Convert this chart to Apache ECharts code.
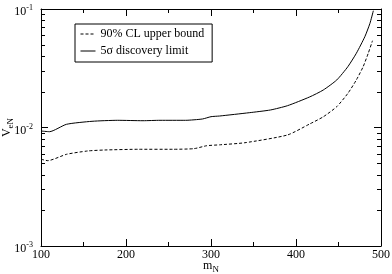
<!DOCTYPE html>
<html><head><meta charset="utf-8">
<script src="https://cdn.jsdelivr.net/npm/echarts@6/dist/echarts.min.js"></script>
<style>html,body{margin:0;padding:0;background:#fff}#c{width:392px;height:274px}</style>
</head><body><div id="c"></div>
<script>
// Data
const massUpper = [100,108,130,155,175,215,255,280,295,310,340,390,416,432,448,461,471,479,485,490];
const upperBound = [0.0054,0.00525,0.00594,0.00634,0.00646,0.00655,0.00655,0.00663,0.00702,0.00714,0.00744,0.00865,0.0107,0.0123,0.015,0.0194,0.0252,0.0326,0.0423,0.054];
const massDisc = [100,110,130,160,190,220,240,270,290,300,310,345,370,390,416,432,448,461,471,481,487,491];
const discovery = [0.00934,0.00922,0.01064,0.01128,0.0115,0.01141,0.0115,0.0115,0.0118,0.01234,0.0125,0.01333,0.01406,0.01528,0.0181,0.0207,0.0252,0.0326,0.0423,0.0584,0.0757,0.0967];
const seriesNames = ['90% CL upper bound', '5\u03c3 discovery limit'];
const xTicks = [100,200,300,400,500];
const yMinorTicks = [0.002,0.003,0.004,0.005,0.006,0.007,0.008,0.009,0.02,0.03,0.04,0.05,0.06,0.07,0.08,0.09];
const X_MIN = 100, X_MAX = 500;

const FONT = '"Liberation Serif", "Times New Roman", serif';
const chart = echarts.init(document.getElementById('c'), null, {renderer: 'canvas'});

function yLabel(v) {
  const e = Math.round(Math.log10(v));
  return '{b|10}{s|' + e + '}';
}
const yRich = {
  b: {fontFamily: FONT, fontSize: 12, color: '#000', lineHeight: 16},
  s: {fontFamily: FONT, fontSize: 8, color: '#000', lineHeight: 8, verticalAlign: 'top'}
};
const common = {
  axisLine: {show: true, lineStyle: {color: '#000', width: 1}},
  splitLine: {show: false}
};

chart.setOption({
  backgroundColor: '#fff',
  animation: false,
  textStyle: {fontFamily: FONT},
  grid: {left: 41, right: 11, top: 9, bottom: 28, containLabel: false, outerBoundsMode: 'none'},
  legend: {
    data: seriesNames,
    orient: 'vertical',
    left: 75, top: 24,
    padding: [4, 8, 5, 5],
    itemGap: 5,
    itemWidth: 15, itemHeight: 13,
    borderColor: '#000', borderWidth: 1,
    itemStyle: {opacity: 0},
    lineStyle: {width: 1},
    textStyle: {fontFamily: FONT, fontSize: 12, color: '#000'}
  },
  xAxis: [{
    type: 'value', min: X_MIN, max: X_MAX, interval: 100, position: 'bottom',
    ...common,
    axisTick: {show: true, inside: true, length: 7, lineStyle: {color: '#000', width: 1}},
    minorTick: {show: true, splitNumber: 2, length: 4, lineStyle: {color: '#000', width: 1}},
    axisLabel: {fontFamily: FONT, fontSize: 12, color: '#000', margin: 3,
      formatter: v => xTicks.includes(v) ? String(v) : ''},
    name: '{m|m}{n|N}', nameLocation: 'middle', nameGap: 12, nameMoveOverlap: false,
    nameTextStyle: {rich: {
      m: {fontFamily: FONT, fontSize: 12, color: '#000', lineHeight: 16},
      n: {fontFamily: FONT, fontSize: 9, color: '#000', lineHeight: 9, verticalAlign: 'bottom'}
    }}
  }, {
    type: 'value', min: X_MIN, max: X_MAX, interval: 100, position: 'top',
    ...common,
    axisTick: {show: true, inside: true, length: 7, lineStyle: {color: '#000', width: 1}},
    minorTick: {show: true, splitNumber: 2, length: 4, lineStyle: {color: '#000', width: 1}},
    axisLabel: {show: false}
  }],
  yAxis: [{
    type: 'log', logBase: 10, min: 0.001, max: 0.1, position: 'left',
    ...common,
    axisTick: {show: true, inside: true, length: 7, lineStyle: {color: '#000', width: 1}},
    minorTick: {show: false},
    axisLabel: {margin: 8, padding: [6, 0, 0, 0], formatter: yLabel, rich: yRich},
    name: '{v|V}{e|eN}', nameLocation: 'middle', nameRotate: 90, nameGap: 26, nameMoveOverlap: false,
    nameTextStyle: {rich: {
      v: {fontFamily: FONT, fontSize: 12, color: '#000', lineHeight: 16},
      e: {fontFamily: FONT, fontSize: 9, color: '#000', lineHeight: 9, verticalAlign: 'bottom'}
    }}
  }, {
    type: 'log', logBase: 10, min: 0.001, max: 0.1, position: 'right',
    ...common,
    axisTick: {show: true, inside: true, length: 7, lineStyle: {color: '#000', width: 1}},
    minorTick: {show: false},
    axisLabel: {show: false}
  }],
  series: [{
    name: seriesNames[0], type: 'line', xAxisIndex: 0, yAxisIndex: 0,
    data: massUpper.map((m, i) => [m, upperBound[i]]),
    showSymbol: false, symbol: 'none', smooth: 0.2,
    lineStyle: {color: '#000', width: 1, type: [3, 2]},
    itemStyle: {color: '#000'}
  }, {
    name: seriesNames[1], type: 'line', xAxisIndex: 0, yAxisIndex: 0,
    data: massDisc.map((m, i) => [m, discovery[i]]),
    showSymbol: false, symbol: 'none', smooth: 0.2,
    lineStyle: {color: '#000', width: 1, type: 'solid'},
    itemStyle: {color: '#000'}
  }, {
    name: 'minorTicks', type: 'custom', xAxisIndex: 0, yAxisIndex: 0,
    clip: false, silent: true, z: 10,
    data: yMinorTicks.map(v => [X_MIN, v]),
    renderItem: function (params, api) {
      const v = api.value(1);
      const p = api.coord([X_MIN, v]);
      const q = api.coord([X_MAX, v]);
      const y = Math.round(p[1]) + 0.5;
      const st = {stroke: '#000', lineWidth: 1};
      return {type: 'group', children: [
        {type: 'line', shape: {x1: p[0], y1: y, x2: p[0] + 4, y2: y}, style: st},
        {type: 'line', shape: {x1: q[0] - 4, y1: y, x2: q[0], y2: y}, style: st}
      ]};
    }
  }]
});
</script></body></html>
